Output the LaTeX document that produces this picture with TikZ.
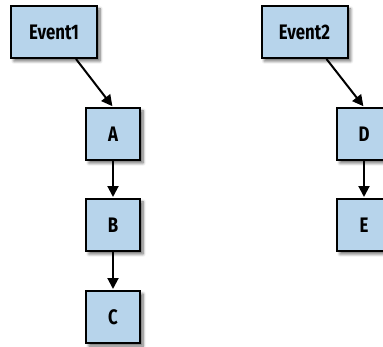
\documentclass[tikz,border=0pt]{standalone}
\usepackage{fontspec}
\newfontfamily\labfont[FakeStretch=0.8]{Fira Sans}
\usetikzlibrary{arrows.meta,shadows.blur,calc}
\definecolor{boxblue}{RGB}{183,212,235}
\tikzset{
  x=1pt,y=1pt,
  evbox/.style={draw=black, line width=2pt, fill=boxblue, minimum width=86pt, minimum height=52pt,
    inner sep=0pt, font=\fontsize{21}{24}\selectfont\labfont\bfseries,
    blur shadow={shadow xshift=3pt, shadow yshift=-3pt, shadow blur steps=6, shadow blur radius=3pt, shadow opacity=60}},
  stbox/.style={evbox, minimum width=54pt},
  conn/.style={line width=2pt, -{Triangle[width=11pt,length=11pt]}, shorten >=1pt}
}
\begin{document}
\begin{tikzpicture}
\useasboundingbox (0,0) rectangle (383,346);
\node[evbox] (ev1) at (54,314) {Event1};
\node[stbox] (a) at (113,212) {A};
\node[stbox] (b) at (113,121) {B};
\node[stbox] (c) at (113,29) {C};
\node[evbox] (ev2) at (304.5,314) {Event2};
\node[stbox] (d) at (364,212) {D};
\node[stbox] (e) at (364,121) {E};
\draw[conn] ($(ev1.south west)!0.75!(ev1.south east)$) -- (a.north);
\draw[conn] (a) -- (b);
\draw[conn] (b) -- (c);
\draw[conn] ($(ev2.south west)!0.75!(ev2.south east)$) -- (d.north);
\draw[conn] (d) -- (e);
\end{tikzpicture}
\end{document}
